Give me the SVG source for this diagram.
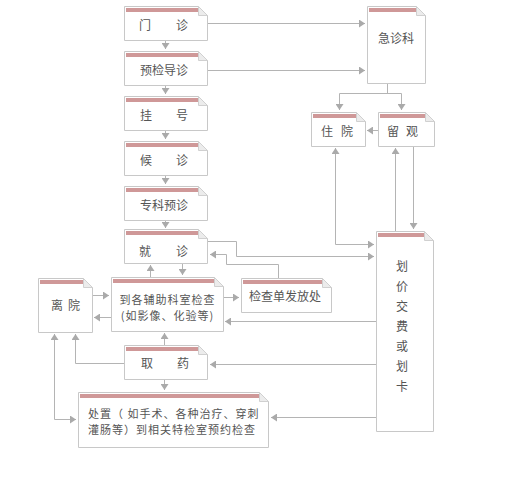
<svg xmlns="http://www.w3.org/2000/svg" width="530" height="484" viewBox="0 0 530 484">
<defs>
<style>
.box{fill:#fff;stroke:#c8c8c8;stroke-width:1}
.fold{fill:#ececec;stroke:#d0d0d0;stroke-width:1}
.bar{fill:#cf9898}
.t{font-family:"Noto Sans CJK SC","Liberation Sans",sans-serif;font-size:12px;fill:#555}
.s{font-size:11px;letter-spacing:1px}
.c{text-anchor:middle}
.ln{fill:none;stroke:#b4b4b4;stroke-width:1}
.ar{marker-end:url(#ah)}
</style>
<marker id="ah" markerUnits="userSpaceOnUse" markerWidth="7" markerHeight="8" refX="6" refY="4" orient="auto">
<path d="M0,0 L6,4 L0,8 z" fill="#aaa"/>
</marker>
</defs>
<rect width="530" height="484" fill="#fff"/>

<g id="connectors">
<path class="ln ar" d="M208,23.5 H365"/>
<path class="ln ar" d="M208,70.5 H365"/>
<path class="ln ar" d="M165.5,40 V49"/>
<path class="ln ar" d="M165.5,85 V94"/>
<path class="ln ar" d="M165.5,130 V139"/>
<path class="ln ar" d="M165.5,175 V184"/>
<path class="ln ar" d="M165.5,220 V228"/>
<path class="ln" d="M387.5,83 V93.5 M339.5,93.5 H401.5"/>
<path class="ln ar" d="M339.5,93.5 V110"/>
<path class="ln ar" d="M401.5,93.5 V110"/>
<path class="ln ar" d="M378,130.5 H367"/>
<path class="ln ar" d="M335.5,244.5 V148"/>
<path class="ln ar" d="M335.5,244.5 H374"/>
<path class="ln ar" d="M395.5,231 V148"/>
<path class="ln ar" d="M413.5,146 V229"/>
<path class="ln ar" d="M207,241.5 H236.5 V256.5 H374"/>
<path class="ln ar" d="M278.5,278 V264.5 H226.5 V254.5 H210"/>
<path class="ln ar" d="M150.5,277 V265"/>
<path class="ln ar" d="M182.5,263 V275"/>
<path class="ln ar" d="M223,297.5 H239"/>
<path class="ln ar" d="M92,295.5 H109"/>
<path class="ln ar" d="M111,317.5 H94"/>
<path class="ln ar" d="M376,321.5 H225"/>
<path class="ln ar" d="M164.5,345 V333"/>
<path class="ln ar" d="M124,363.5 H75.5 V334"/>
<path class="ln ar" d="M54.5,419.5 V334"/>
<path class="ln ar" d="M54.5,419.5 H76"/>
<path class="ln ar" d="M376,364.5 H210"/>
<path class="ln ar" d="M164.5,379 V390"/>
<path class="ln ar" d="M376,417.5 H271"/>
</g>

<g id="n-menzhen">
<path class="box" d="M124.5,6.5 H198.5 L207.5,15.5 V40.5 H124.5 Z"/>
<path class="fold" d="M198.5,6.5 V15.5 H207.5 Z"/>
<rect class="bar" x="126" y="8" width="72" height="4"/>
<text class="t c" x="145" y="30">门</text><text class="t c" x="182" y="30">诊</text>
</g>
<g id="n-yujian">
<path class="box" d="M124.5,51.5 H198.5 L207.5,60.5 V85.5 H124.5 Z"/>
<path class="fold" d="M198.5,51.5 V60.5 H207.5 Z"/>
<rect class="bar" x="126" y="53" width="72" height="4"/>
<text class="t c" x="164" y="75">预检导诊</text>
</g>
<g id="n-guahao">
<path class="box" d="M124.5,96.5 H198.5 L207.5,105.5 V130.5 H124.5 Z"/>
<path class="fold" d="M198.5,96.5 V105.5 H207.5 Z"/>
<rect class="bar" x="126" y="98" width="72" height="4"/>
<text class="t c" x="146" y="120">挂</text><text class="t c" x="182" y="120">号</text>
</g>
<g id="n-houzhen">
<path class="box" d="M124.5,141.5 H198.5 L207.5,150.5 V175.5 H124.5 Z"/>
<path class="fold" d="M198.5,141.5 V150.5 H207.5 Z"/>
<rect class="bar" x="126" y="143" width="72" height="4"/>
<text class="t c" x="146" y="165">候</text><text class="t c" x="182" y="165">诊</text>
</g>
<g id="n-zhuanke">
<path class="box" d="M124.5,186.5 H198.5 L207.5,195.5 V220.5 H124.5 Z"/>
<path class="fold" d="M198.5,186.5 V195.5 H207.5 Z"/>
<rect class="bar" x="126" y="188" width="72" height="4"/>
<text class="t c" x="164" y="210">专科预诊</text>
</g>
<g id="n-jiuzhen">
<path class="box" d="M124.5,229.5 H198.5 L207.5,238.5 V263.5 H124.5 Z"/>
<path class="fold" d="M198.5,229.5 V238.5 H207.5 Z"/>
<rect class="bar" x="126" y="231" width="72" height="4"/>
<text class="t c" x="145" y="256">就</text><text class="t c" x="182" y="256">诊</text>
</g>
<g id="n-jizhenke">
<path class="box" d="M367.5,6.5 H416.5 L425.5,15.5 V83.5 H367.5 Z"/>
<path class="fold" d="M416.5,6.5 V15.5 H425.5 Z"/>
<rect class="bar" x="369" y="8" width="47" height="4"/>
<text class="t c" x="396" y="43">急诊科</text>
</g>
<g id="n-zhuyuan">
<path class="box" d="M311.5,112.5 H356.5 L365.5,121.5 V146.5 H311.5 Z"/>
<path class="fold" d="M356.5,112.5 V121.5 H365.5 Z"/>
<rect class="bar" x="313" y="114" width="43" height="4"/>
<text class="t c" x="327" y="136">住</text><text class="t c" x="347" y="136">院</text>
</g>
<g id="n-liuguan">
<path class="box" d="M378.5,112.5 H425.5 L434.5,121.5 V146.5 H378.5 Z"/>
<path class="fold" d="M425.5,112.5 V121.5 H434.5 Z"/>
<rect class="bar" x="380" y="114" width="45" height="4"/>
<text class="t c" x="393" y="136">留</text><text class="t c" x="412" y="136">观</text>
</g>
<g id="n-huajia">
<path class="box" d="M376.5,231.5 H424.5 L433.5,240.5 V431.5 H376.5 Z"/>
<path class="fold" d="M424.5,231.5 V240.5 H433.5 Z"/>
<rect class="bar" x="378" y="233" width="46" height="4"/>
<text class="t c" x="402" y="271">划</text>
<text class="t c" x="402" y="291">价</text>
<text class="t c" x="402" y="311">交</text>
<text class="t c" x="402" y="331">费</text>
<text class="t c" x="402" y="351">或</text>
<text class="t c" x="402" y="371">划</text>
<text class="t c" x="402" y="391">卡</text>
</g>
<g id="n-fuzhu">
<path class="box" d="M111.5,277.5 H214.5 L223.5,286.5 V331.5 H111.5 Z"/>
<path class="fold" d="M214.5,277.5 V286.5 H223.5 Z"/>
<rect class="bar" x="113" y="279" width="101" height="4"/>
<text class="t s c" x="167.5" y="304">到各辅助科室检查</text>
<text class="t s c" x="167.5" y="320">(如影像、化验等)</text>
</g>
<g id="n-jianchadan">
<path class="box" d="M241.5,278.5 H322.5 L331.5,287.5 V312.5 H241.5 Z"/>
<path class="fold" d="M322.5,278.5 V287.5 H331.5 Z"/>
<rect class="bar" x="243" y="280" width="79" height="4"/>
<text class="t c" x="285" y="301">检查单发放处</text>
</g>
<g id="n-liyuan">
<path class="box" d="M38.5,278.5 H83.5 L92.5,287.5 V332.5 H38.5 Z"/>
<path class="fold" d="M83.5,278.5 V287.5 H92.5 Z"/>
<rect class="bar" x="40" y="280" width="43" height="4"/>
<text class="t c" x="57" y="310">离</text><text class="t c" x="74" y="310">院</text>
</g>
<g id="n-quyao">
<path class="box" d="M124.5,345.5 H198.5 L207.5,354.5 V379.5 H124.5 Z"/>
<path class="fold" d="M198.5,345.5 V354.5 H207.5 Z"/>
<rect class="bar" x="126" y="347" width="72" height="4"/>
<text class="t c" x="147" y="368">取</text><text class="t c" x="183" y="368">药</text>
</g>
<g id="n-chuzhi">
<path class="box" d="M78.5,392.5 H259.5 L268.5,401.5 V447.5 H78.5 Z"/>
<path class="fold" d="M259.5,392.5 V401.5 H268.5 Z"/>
<rect class="bar" x="80" y="394" width="179" height="4"/>
<text class="t s" x="88" y="418">处置（ 如手术、各种治疗、穿刺</text>
<text class="t s" x="88" y="434">灌肠等）到相关特检室预约检查</text>
</g>
</svg>
